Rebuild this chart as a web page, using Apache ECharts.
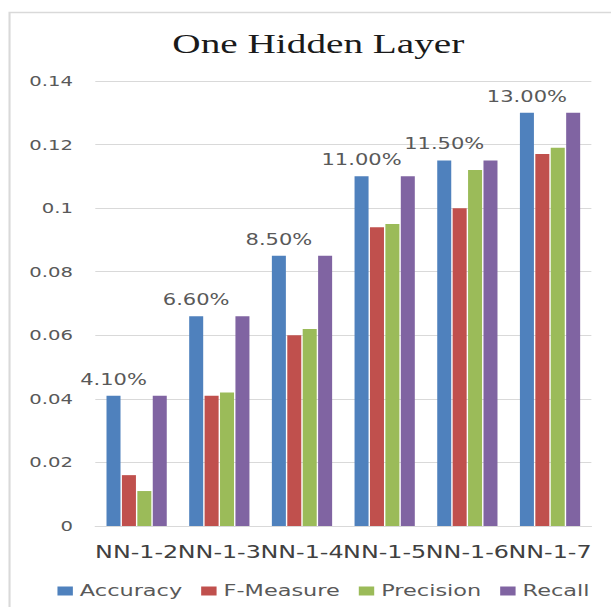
<!DOCTYPE html>
<html>
<head>
<meta charset="utf-8">
<script src="https://cdn.jsdelivr.net/npm/echarts@6/dist/echarts.min.js"></script>
<style>
  html, body { margin: 0; padding: 0; background: #ffffff; overflow: hidden; }
  #wrap { width: 611px; height: 607px; overflow: hidden; }
  /* the chart is laid out narrower and widened horizontally */
  #chart { width: 436px; height: 607px; transform: scaleX(1.40138); transform-origin: 0 0; }
</style>
</head>
<body>
<div id="wrap"><div id="chart"></div></div>
<script>
const categories = ['NN-1-2', 'NN-1-3', 'NN-1-4', 'NN-1-5', 'NN-1-6', 'NN-1-7'];
const accuracy  = [0.041, 0.066, 0.085, 0.110, 0.115, 0.130];
const fMeasure  = [0.016, 0.041, 0.060, 0.094, 0.100, 0.117];
const precision = [0.011, 0.042, 0.062, 0.095, 0.112, 0.119];
const recall    = [0.041, 0.066, 0.085, 0.110, 0.115, 0.130];
const yTicks = [0, 0.02, 0.04, 0.06, 0.08, 0.1, 0.12, 0.14];

const chart = echarts.init(document.getElementById('chart'), null, { renderer: 'svg' });

const barBase = { type: 'bar', barWidth: 10, barGap: '10%' };

chart.setOption({
  animation: false,
  backgroundColor: '#ffffff',
  title: {
    text: 'One Hidden Layer',
    left: 123,
    top: 30,
    padding: 0,
    textStyle: { fontFamily: 'Liberation Serif', fontSize: 28, fontWeight: 'normal', color: '#1a1a1a' }
  },
  graphic: [{
    type: 'rect',
    shape: { x: 6.8, y: 12.5, width: 460, height: 620 },
    style: { fill: 'none', stroke: '#d9d9d9', lineWidth: 1.5 },
    silent: true
  }],
  legend: {
    left: 41,
    top: 583,
    padding: 0,
    itemWidth: 11,
    itemHeight: 9,
    itemGap: 13.5,
    icon: 'rect',
    textStyle: { fontFamily: 'DejaVu Sans', fontSize: 16, color: '#595959' },
    data: ['Accuracy', 'F-Measure', 'Precision', 'Recall']
  },
  grid: { left: 68, right: 14, top: 81, bottom: 81, containLabel: false },
  xAxis: {
    type: 'category',
    data: categories,
    axisLine: { lineStyle: { color: '#d9d9d9', width: 1 } },
    axisTick: { show: false },
    axisLabel: { interval: 0, margin: 18, fontFamily: 'DejaVu Sans', fontSize: 17, color: '#404040' }
  },
  yAxis: {
    type: 'value',
    min: yTicks[0],
    max: yTicks[yTicks.length - 1],
    interval: 0.02,
    axisLine: { show: false },
    axisTick: { show: false },
    splitLine: { lineStyle: { color: '#d9d9d9', width: 1 } },
    axisLabel: {
      margin: 16,
      fontFamily: 'DejaVu Sans', fontSize: 14, color: '#595959',
      formatter: v => String(parseFloat(v.toFixed(2)))
    }
  },
  series: [
    Object.assign({}, barBase, {
      name: 'Accuracy', data: accuracy, itemStyle: { color: '#4F81BD' },
      label: {
        show: true, position: 'top', distance: 9,
        fontFamily: 'DejaVu Sans', fontSize: 15, color: '#595959',
        formatter: p => (p.value * 100).toFixed(2) + '%'
      }
    }),
    Object.assign({}, barBase, { name: 'F-Measure', data: fMeasure, itemStyle: { color: '#C0504D' } }),
    Object.assign({}, barBase, { name: 'Precision', data: precision, itemStyle: { color: '#9BBB59' } }),
    Object.assign({}, barBase, { name: 'Recall', data: recall, itemStyle: { color: '#8064A2' } })
  ]
});
</script>
</body>
</html>
